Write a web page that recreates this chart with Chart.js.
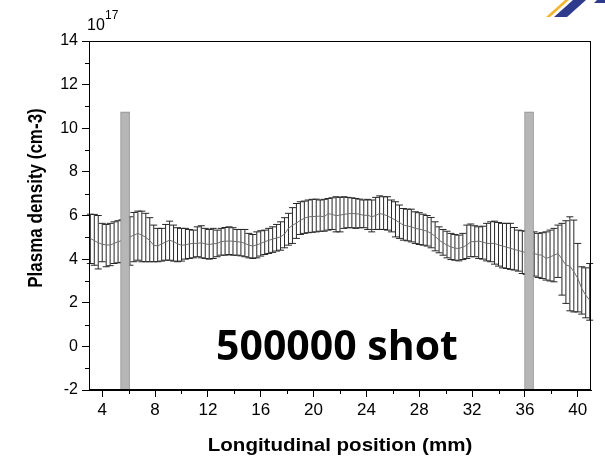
<!DOCTYPE html>
<html>
<head>
<meta charset="utf-8">
<script src="https://cdn.jsdelivr.net/npm/chart.js@4.4.1/dist/chart.umd.min.js"></script>
<style>
  html, body { margin: 0; padding: 0; background: #fff; }
  #wrap { width: 605px; height: 457px; }
</style>
</head>
<body>
<div id="wrap"><canvas id="chart-density" width="605" height="457"></canvas></div>
<script>
// longitudinal positions of the measurements (mm)
var positions = [
  3.1, 3.4, 3.7, 4.0, 4.3, 4.6, 4.9, 5.2, 5.5, 5.8,
  6.1, 6.4, 6.7, 7.0, 7.3, 7.6, 7.9, 8.2, 8.5, 8.8,
  9.1, 9.4, 9.7, 10.0, 10.3, 10.6, 10.9, 11.2, 11.5, 11.8,
  12.1, 12.4, 12.7, 13.0, 13.3, 13.6, 13.9, 14.2, 14.5, 14.8,
  15.1, 15.4, 15.7, 16.0, 16.3, 16.6, 16.9, 17.2, 17.5, 17.8,
  18.1, 18.4, 18.7, 19.0, 19.3, 19.6, 19.9, 20.2, 20.5, 20.8,
  21.1, 21.4, 21.7, 22.0, 22.3, 22.6, 22.9, 23.2, 23.5, 23.8,
  24.1, 24.4, 24.7, 25.0, 25.3, 25.6, 25.9, 26.2, 26.5, 26.8,
  27.1, 27.4, 27.7, 28.0, 28.3, 28.6, 28.9, 29.2, 29.5, 29.8,
  30.1, 30.4, 30.7, 31.0, 31.3, 31.6, 31.9, 32.2, 32.5, 32.8,
  33.1, 33.4, 33.7, 34.0, 34.3, 34.6, 34.9, 35.2, 35.5, 35.8,
  36.1, 36.4, 36.7, 37.0, 37.3, 37.6, 37.9, 38.2, 38.5, 38.8,
  39.1, 39.4, 39.7, 40.0, 40.3, 40.6, 40.9
];

// mean plasma density (x10^17 cm-3)
var density = [
  4.95, 4.85, 4.75, 4.68, 4.65, 4.65, 4.72, 4.80, 4.85, 4.90,
  5.02, 5.10, 5.18, 5.10, 5.00, 4.85, 4.64, 4.60, 4.70, 4.78,
  4.87, 4.80, 4.70, 4.64, 4.65, 4.70, 4.72, 4.72, 4.75, 4.70,
  4.67, 4.70, 4.72, 4.80, 4.82, 4.83, 4.82, 4.80, 4.78, 4.72,
  4.64, 4.60, 4.65, 4.72, 4.80, 4.86, 4.92, 4.97, 5.02, 5.15,
  5.41, 5.55, 5.65, 5.78, 5.87, 5.94, 5.95, 5.96, 5.97, 5.94,
  6.09, 6.05, 5.99, 6.02, 6.05, 6.08, 6.09, 6.08, 6.06, 6.00,
  6.02, 5.94, 6.00, 6.09, 6.05, 5.98, 5.88, 5.79, 5.68, 5.56,
  5.52, 5.48, 5.41, 5.38, 5.33, 5.28, 5.18, 5.05, 4.87, 4.75,
  4.64, 4.56, 4.50, 4.49, 4.55, 4.64, 4.80, 4.80, 4.83, 4.78,
  4.72, 4.72, 4.72, 4.65, 4.60, 4.55, 4.50, 4.44, 4.40, 4.34,
  4.30, 4.28, 4.26, 4.20, 4.18, 4.03, 4.10, 4.18, 4.26, 4.00,
  3.73, 3.68, 3.42, 3.12, 2.65, 2.35, 2.12
];

// top of each error bar
var densityHigh = [
  6.06, 6.05, 6.00, 5.64, 5.59, 5.64, 5.71, 5.76, 5.80, 5.90,
  5.94, 6.14, 6.20, 6.20, 6.10, 5.90, 5.56, 5.41, 5.41, 5.59,
  5.74, 5.56, 5.44, 5.41, 5.41, 5.36, 5.33, 5.48, 5.53, 5.41,
  5.36, 5.41, 5.33, 5.41, 5.45, 5.48, 5.44, 5.36, 5.36, 5.36,
  5.18, 5.13, 5.25, 5.30, 5.33, 5.41, 5.48, 5.59, 5.71, 5.90,
  6.10, 6.36, 6.55, 6.63, 6.66, 6.71, 6.74, 6.75, 6.71, 6.74,
  6.78, 6.81, 6.86, 6.83, 6.86, 6.83, 6.81, 6.78, 6.75, 6.71,
  6.74, 6.71, 6.83, 6.90, 6.86, 6.86, 6.71, 6.63, 6.48, 6.32,
  6.29, 6.29, 6.17, 6.13, 6.06, 6.00, 5.91, 5.71, 5.48, 5.36,
  5.28, 5.18, 5.13, 5.10, 5.18, 5.56, 5.61, 5.53, 5.48, 5.51,
  5.64, 5.71, 5.74, 5.68, 5.64, 5.64, 5.64, 5.45, 5.33, 5.30,
  5.28, 5.26, 5.25, 5.18, 5.21, 5.25, 5.33, 5.41, 5.56, 5.64,
  5.76, 5.94, 5.79, 4.72, 3.65, 3.60, 3.80
];

// bottom of each error bar
var densityLow = [
  3.80, 3.72, 3.55, 3.88, 3.65, 3.70, 3.80, 3.83, 3.85, 3.80,
  3.72, 3.88, 3.95, 3.88, 3.88, 3.88, 3.88, 3.88, 3.91, 3.95,
  3.95, 3.91, 3.88, 3.91, 4.00, 4.03, 4.06, 4.11, 4.06, 4.03,
  4.00, 4.03, 4.11, 4.18, 4.18, 4.21, 4.18, 4.18, 4.15, 4.11,
  4.06, 4.03, 4.06, 4.14, 4.21, 4.26, 4.31, 4.37, 4.41, 4.52,
  4.64, 4.72, 4.95, 5.13, 5.18, 5.21, 5.23, 5.25, 5.28, 5.28,
  5.33, 5.36, 5.25, 5.25, 5.41, 5.44, 5.44, 5.41, 5.44, 5.44,
  5.36, 5.25, 5.36, 5.36, 5.36, 5.33, 5.25, 5.02, 4.95, 4.87,
  4.84, 4.79, 4.72, 4.67, 4.64, 4.60, 4.52, 4.38, 4.29, 4.18,
  4.06, 3.98, 3.95, 3.92, 3.98, 4.03, 4.11, 4.11, 4.03, 4.00,
  3.92, 3.88, 3.77, 3.68, 3.60, 3.57, 3.53, 3.50, 3.45, 3.34,
  3.30, 3.25, 3.22, 3.16, 3.11, 3.04, 3.00, 2.96, 3.16, 2.35,
  1.97, 1.63, 1.58, 1.58, 1.48, 1.31, 1.20
];

// electrode positions (grey bars)
var electrodePos = [5.73, 36.31];
var electrodeTop = 10.75;

var xTickValues = [4, 8, 12, 16, 20, 24, 28, 32, 36, 40];
var xMinorValues = [6, 10, 14, 18, 22, 26, 30, 34, 38];
var yTickValues = [-2, 0, 2, 4, 6, 8, 10, 12, 14];
var yMinorValues = [-1, 1, 3, 5, 7, 9, 11, 13];

var FONT = "'Liberation Sans', Arial, sans-serif";

// error bars go under the datasets so the grey bars cover them
var errorBars = {
  id: 'errorBars',
  beforeDatasetsDraw: function(chart) {
    var ctx = chart.ctx;
    var xs = chart.scales.x, ys = chart.scales.y;
    ctx.save();
    ctx.strokeStyle = '#262626';
    ctx.lineWidth = 1;
    for (var i = 0; i < positions.length; i++) {
      var px = xs.getPixelForValue(positions[i]);
      var top = ys.getPixelForValue(densityHigh[i]);
      var bot = ys.getPixelForValue(densityLow[i]);
      ctx.beginPath();
      ctx.moveTo(px, top); ctx.lineTo(px, bot);
      ctx.moveTo(px - 3.5, top); ctx.lineTo(px + 3.5, top);
      ctx.moveTo(px - 3.5, bot); ctx.lineTo(px + 3.5, bot);
      ctx.stroke();
    }
    ctx.restore();
  }
};

// frame, minor ticks, titles, annotation and logo
var decorations = {
  id: 'decorations',
  afterDraw: function(chart) {
    var ctx = chart.ctx;
    var a = chart.chartArea;
    var xs = chart.scales.x, ys = chart.scales.y;
    ctx.save();
    ctx.strokeStyle = '#000';
    ctx.lineWidth = 1;
    ctx.strokeRect(Math.round(a.left) + 0.5, Math.round(a.top) + 0.5,
                   Math.round(a.right - a.left) - 1, Math.round(a.bottom - a.top) - 1);

    ctx.beginPath();
    xMinorValues.forEach(function(v) {
      var px = Math.round(xs.getPixelForValue(v)) + 0.5;
      ctx.moveTo(px, a.bottom); ctx.lineTo(px, a.bottom + 4);
    });
    yMinorValues.forEach(function(v) {
      var py = Math.round(ys.getPixelForValue(v)) + 0.5;
      ctx.moveTo(a.left, py); ctx.lineTo(a.left - 4, py);
    });
    ctx.stroke();

    ctx.fillStyle = '#000';
    // exponent label
    ctx.textBaseline = 'alphabetic';
    ctx.textAlign = 'left';
    ctx.font = '16px ' + FONT;
    ctx.fillText('10', 87, 30);
    ctx.font = '12px ' + FONT;
    ctx.fillText('17', 105, 19);

    // y title
    ctx.save();
    ctx.translate(37, 198);
    ctx.rotate(-Math.PI / 2);
    ctx.scale(1, 1.15);
    ctx.textAlign = 'center';
    ctx.textBaseline = 'middle';
    ctx.font = 'bold 17px ' + FONT;
    ctx.fillText('Plasma density (cm-3)', 0, 0);
    ctx.restore();

    // x title
    ctx.save();
    ctx.translate(340, 451);
    ctx.scale(1.08, 1);
    ctx.textAlign = 'center';
    ctx.font = 'bold 19px ' + FONT;
    ctx.fillText('Longitudinal position (mm)', 0, 0);
    ctx.restore();

    // annotation
    ctx.font = "bold 41px 'Open Sans', sans-serif";
    ctx.textAlign = 'left';
    ctx.fillText('500000 shot', 216, 360);

    // logo corner
    ctx.fillStyle = '#f2b632';
    ctx.beginPath();
    ctx.moveTo(546, 17); ctx.lineTo(550, 17); ctx.lineTo(569, 0); ctx.lineTo(565, 0);
    ctx.closePath(); ctx.fill();
    ctx.fillStyle = '#2e3a8c';
    ctx.beginPath();
    ctx.moveTo(554, 17); ctx.lineTo(567, 17); ctx.lineTo(586, 0); ctx.lineTo(573, 0);
    ctx.closePath(); ctx.fill();
    ctx.beginPath();
    ctx.moveTo(594, 3); ctx.lineTo(605, 3); ctx.lineTo(605, 0); ctx.lineTo(597, 0);
    ctx.closePath(); ctx.fill();
    ctx.restore();
  }
};

new Chart(document.getElementById('chart-density'), {
  type: 'line',
  data: {
    datasets: [{
      type: 'bar',
      data: electrodePos.map(function(p) { return { x: p, y: [-2, electrodeTop] }; }),
      backgroundColor: '#b6b6b6',
      borderColor: '#8e8e8e',
      borderWidth: 1,
      borderSkipped: false,
      barThickness: 9,
      grouped: false,
      order: 0
    }, {
      data: positions.map(function(p, i) { return { x: p, y: density[i] }; }),
      borderColor: '#707070',
      borderWidth: 1,
      pointRadius: 0,
      tension: 0,
      fill: false,
      order: 1
    }]
  },
  options: {
    responsive: false,
    animation: false,
    devicePixelRatio: 1,
    layout: { padding: { top: 41, right: 14, left: 0, bottom: 0 } },
    plugins: { legend: { display: false }, tooltip: { enabled: false } },
    scales: {
      x: {
        type: 'linear',
        min: 3,
        max: 41,
        offset: false,
        afterBuildTicks: function(s) { s.ticks = xTickValues.map(function(v) { return { value: v }; }); },
        afterFit: function(s) { s.height = 67; },
        grid: { display: true, drawOnChartArea: false, drawTicks: true, tickLength: 7, tickColor: '#000', offset: false },
        border: { display: true, color: '#000', width: 1 },
        ticks: { color: '#000', font: { family: FONT, size: 17 }, padding: 3, maxRotation: 0, autoSkip: false }
      },
      y: {
        min: -2,
        max: 14,
        afterBuildTicks: function(s) { s.ticks = yTickValues.map(function(v) { return { value: v }; }); },
        afterFit: function(s) { s.width = 89; },
        grid: { display: true, drawOnChartArea: false, drawTicks: true, tickLength: 7, tickColor: '#000' },
        border: { display: true, color: '#000', width: 1 },
        ticks: { color: '#000', font: { family: FONT, size: 16 }, padding: 4 }
      }
    }
  },
  plugins: [errorBars, decorations]
});
</script>
</body>
</html>
